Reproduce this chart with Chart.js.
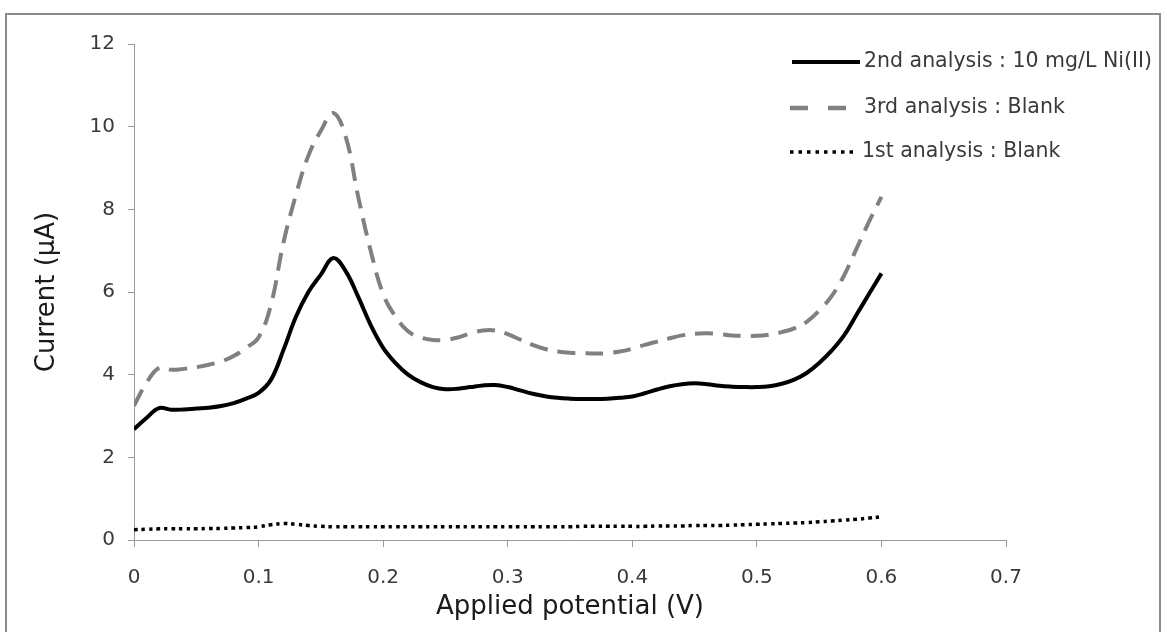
<!DOCTYPE html>
<html>
<head>
<meta charset="utf-8">
<script src="https://cdn.jsdelivr.net/npm/chart.js@4.4.0/dist/chart.umd.min.js"></script>
<style>
  html, body { margin: 0; padding: 0; background: #fff; }
  #wrap { position: relative; width: 1167px; height: 632px; overflow: hidden; }
  #frame { position: absolute; left: 5px; top: 13px; width: 1156px; height: 640px; border: 2px solid #8c8c8c; box-sizing: border-box; pointer-events: none; }
</style>
</head>
<body>
<div id="wrap">
  <canvas id="voltChart" width="1167" height="632"></canvas>
  <div id="frame"></div>
</div>
<script>
// applied potential (V)
const potential = [
  0.00, 0.01, 0.02, 0.03, 0.04, 0.05, 0.06, 0.07, 0.08, 0.09,
  0.10, 0.11, 0.12, 0.13, 0.14, 0.15, 0.16, 0.17, 0.18, 0.19,
  0.20, 0.21, 0.22, 0.23, 0.24, 0.25, 0.26, 0.27, 0.28, 0.29,
  0.30, 0.31, 0.32, 0.33, 0.34, 0.35, 0.36, 0.37, 0.38, 0.39,
  0.40, 0.41, 0.42, 0.43, 0.44, 0.45, 0.46, 0.47, 0.48, 0.49,
  0.50, 0.51, 0.52, 0.53, 0.54, 0.55, 0.56, 0.57, 0.58, 0.59, 0.60
];

// current (uA) for each run
const secondNi = [
  2.68, 2.95, 3.19, 3.15, 3.16, 3.18, 3.20, 3.24, 3.31, 3.42,
  3.56, 3.88, 4.60, 5.40, 6.00, 6.42, 6.82, 6.50, 5.88, 5.20,
  4.65, 4.28, 4.00, 3.82, 3.70, 3.65, 3.66, 3.70, 3.74, 3.75,
  3.70, 3.62, 3.54, 3.48, 3.44, 3.42, 3.41, 3.41, 3.42, 3.44,
  3.47, 3.55, 3.64, 3.72, 3.77, 3.79, 3.77, 3.73, 3.71, 3.70,
  3.70, 3.72, 3.78, 3.88, 4.04, 4.28, 4.58, 4.95, 5.45, 5.95, 6.45
];
const thirdBlank = [
  3.25, 3.80, 4.16, 4.12, 4.14, 4.18, 4.24, 4.32, 4.45, 4.65,
  4.90, 5.70, 7.20, 8.35, 9.30, 9.90, 10.33, 9.75, 8.30, 7.00,
  5.95, 5.40, 5.05, 4.90, 4.84, 4.84, 4.90, 5.00, 5.07, 5.07,
  4.98, 4.85, 4.72, 4.62, 4.56, 4.53, 4.52, 4.51, 4.52, 4.56,
  4.63, 4.72, 4.80, 4.88, 4.95, 4.99, 5.00, 4.98, 4.95, 4.94,
  4.94, 4.97, 5.03, 5.12, 5.28, 5.55, 5.90, 6.40, 7.05, 7.70, 8.30
];
const firstBlank = [
  0.25, 0.26, 0.27, 0.27, 0.27, 0.27, 0.28, 0.28, 0.29, 0.30,
  0.32, 0.37, 0.40, 0.38, 0.35, 0.33, 0.32, 0.32, 0.32, 0.32,
  0.32, 0.32, 0.32, 0.32, 0.32, 0.32, 0.32, 0.32, 0.32, 0.32,
  0.32, 0.32, 0.32, 0.32, 0.32, 0.32, 0.33, 0.33, 0.33, 0.33,
  0.33, 0.33, 0.34, 0.34, 0.34, 0.35, 0.35, 0.35, 0.36, 0.37,
  0.38, 0.39, 0.40, 0.41, 0.42, 0.44, 0.46, 0.48, 0.50, 0.53, 0.56
];

const seriesLabels = ['2nd analysis : 10 mg/L Ni(II)', '3rd analysis : Blank', '1st analysis : Blank'];
const xTickLabels = ['0', '0.1', '0.2', '0.3', '0.4', '0.5', '0.6', '0.7'];
const yTickLabels = ['0', '2', '4', '6', '8', '10', '12'];

const FONT = '"DejaVu Sans", "Open Sans", sans-serif';
const TXT = '#3a3a3a';
const AXIS = '#9a9a9a';

function pts(ys) {
  return potential.map((x, i) => ({ x: x, y: ys[i] }));
}

// legend drawn in the upper right like the original
const legendPlugin = {
  id: 'cornerLegend',
  afterDraw(chart) {
    const ctx = chart.ctx;
    const rows = [
      { y: 62, color: '#000', width: 4, dash: [], x0: 792, x1: 860, tx: 864 },
      { y: 108, color: '#808080', width: 4.5, dash: [18, 20], x0: 790, x1: 848, tx: 864 },
      { y: 152, color: '#000', width: 3.5, dash: [3.5, 5], x0: 790, x1: 854, tx: 862 }
    ];
    ctx.save();
    rows.forEach((r, i) => {
      ctx.beginPath();
      ctx.setLineDash(r.dash);
      ctx.lineWidth = r.width;
      ctx.strokeStyle = r.color;
      ctx.moveTo(r.x0, r.y);
      ctx.lineTo(r.x1, r.y);
      ctx.stroke();
      ctx.setLineDash([]);
      ctx.fillStyle = TXT;
      ctx.font = '20.5px ' + FONT;
      ctx.textBaseline = 'middle';
      ctx.textAlign = 'left';
      ctx.fillText(chart.data.datasets[i].label, r.tx, r.y);
    });
    ctx.restore();
  }
};

new Chart(document.getElementById('voltChart'), {
  type: 'line',
  data: {
    datasets: [
      {
        label: seriesLabels[0],
        data: pts(secondNi),
        borderColor: '#000',
        borderWidth: 4,
        pointRadius: 0,
        tension: 0.4,
        fill: false
      },
      {
        label: seriesLabels[1],
        data: pts(thirdBlank),
        borderColor: '#808080',
        borderWidth: 4,
        borderDash: [18, 10],
        pointRadius: 0,
        tension: 0.4,
        fill: false
      },
      {
        label: seriesLabels[2],
        data: pts(firstBlank),
        borderColor: '#000',
        borderWidth: 3.5,
        borderDash: [3.5, 4],
        pointRadius: 0,
        tension: 0.4,
        fill: false
      }
    ]
  },
  options: {
    responsive: false,
    animation: false,
    events: [],
    layout: { padding: { top: 44, right: 161, bottom: 0, left: 0 } },
    plugins: {
      legend: { display: false },
      tooltip: { enabled: false }
    },
    scales: {
      x: {
        type: 'linear',
        min: 0,
        max: 0.7,
        afterFit: s => { s.height = 92; },
        afterBuildTicks: s => { s.ticks = xTickLabels.map(t => ({ value: parseFloat(t) })); },
        ticks: {
          color: TXT,
          font: { family: FONT, size: 20 },
          padding: 19,
          maxRotation: 0,
          callback: (v, i) => xTickLabels[i]
        },
        grid: { drawOnChartArea: false, color: AXIS, tickLength: 7 },
        border: { color: AXIS, width: 1 },
        title: {
          display: true,
          text: 'Applied potential (V)',
          color: '#1a1a1a',
          font: { family: FONT, size: 26 },
          padding: { top: 0, bottom: 9 }
        }
      },
      y: {
        min: 0,
        max: 12,
        afterFit: s => { s.width = 134; },
        ticks: {
          stepSize: 2,
          color: TXT,
          font: { family: FONT, size: 20 },
          padding: 13,
          callback: (v) => yTickLabels[v / 2]
        },
        grid: { drawOnChartArea: false, color: AXIS, tickLength: 6 },
        border: { color: AXIS, width: 1 },
        title: {
          display: true,
          text: 'Current (µA)',
          color: '#1a1a1a',
          font: { family: FONT, size: 26 },
          padding: { top: 32, bottom: 0 }
        }
      }
    }
  },
  plugins: [legendPlugin]
});
</script>
</body>
</html>
